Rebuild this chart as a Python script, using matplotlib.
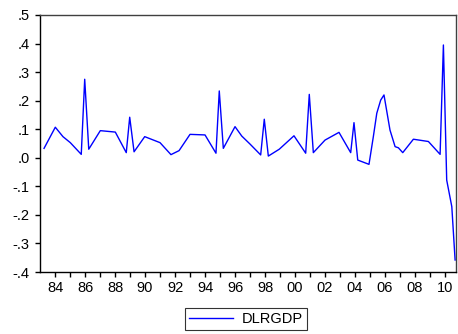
import matplotlib
matplotlib.use("Agg")
import matplotlib.pyplot as plt
import numpy as np

# DLRGDP series, values (decimal year, value)
years = [1983.27, 1984.02, 1984.53, 1985.02, 1985.75, 1985.98, 1986.25, 1987.02,
         1988.02, 1988.75, 1988.98, 1989.27, 1989.98, 1991.0, 1991.73, 1992.27,
         1993.0, 1994.0, 1994.73, 1994.95, 1995.22, 1996.0, 1996.45, 1997.0,
         1997.71, 1997.95, 1998.22, 1998.95, 1999.93, 2000.71, 2000.95, 2001.22,
         2002.0, 2002.93, 2003.71, 2003.93, 2004.18, 2004.93, 2005.22, 2005.45,
         2005.71, 2005.93, 2006.33, 2006.67, 2006.89, 2007.18, 2007.89, 2008.89,
         2009.67, 2009.89, 2010.11, 2010.45, 2010.67]
dlrgdp = [0.033, 0.107, 0.074, 0.053, 0.012, 0.275, 0.030, 0.095,
          0.090, 0.018, 0.142, 0.021, 0.074, 0.053, 0.011, 0.025,
          0.082, 0.080, 0.016, 0.234, 0.033, 0.109, 0.076, 0.048,
          0.010, 0.135, 0.006, 0.030, 0.077, 0.016, 0.222, 0.018,
          0.062, 0.089, 0.018, 0.123, -0.008, -0.023, 0.074, 0.156,
          0.202, 0.220, 0.097, 0.039, 0.035, 0.018, 0.065, 0.057,
          0.012, 0.395, -0.078, -0.171, -0.358]

ytick_vals = [0.5, 0.4, 0.3, 0.2, 0.1, 0.0, -0.1, -0.2, -0.3, -0.4]
ytick_labels = [".5", ".4", ".3", ".2", ".1", ".0", "-.1", "-.2", "-.3", "-.4"]
xlabel_years = list(range(1984, 2011, 2))

plt.rcParams['font.family'] = ['Liberation Sans', 'DejaVu Sans']

fig = plt.figure(figsize=(4.58, 3.34), dpi=100)
ax = fig.add_axes([40 / 458, 1 - 272 / 334, 416 / 458, 257 / 334])

ax.plot(years, dlrgdp, color='#0000ff', lw=1.0, label='DLRGDP')

ax.set_xlim(1983.0, 2010.73)
ax.set_ylim(-0.4, 0.5)

ax.set_yticks(ytick_vals)
ax.set_yticklabels(ytick_labels)
ax.set_xticks(range(1984, 2011), minor=False)
ax.set_xticklabels([("%02d" % (y % 100)) if y in xlabel_years else "" for y in range(1984, 2011)])

ax.tick_params(axis='both', direction='out', length=3.5, width=1.0,
               labelsize=10.5, colors='black', pad=3)
ax.tick_params(axis='y', pad=4)

for side in ['top', 'right']:
    ax.spines[side].set_color('#404040')
    ax.spines[side].set_linewidth(1.0)
for side in ['left', 'bottom']:
    ax.spines[side].set_color('black')
    ax.spines[side].set_linewidth(1.0)

leg = fig.legend(loc='center', bbox_to_anchor=(246 / 458, 1 - 319 / 334),
                 frameon=True, fancybox=False, fontsize=10.5,
                 handlelength=3.0, borderpad=0.3, handletextpad=0.6)
leg.get_frame().set_edgecolor('black')
leg.get_frame().set_linewidth(0.8)

fig.savefig('out.png', dpi=100)
